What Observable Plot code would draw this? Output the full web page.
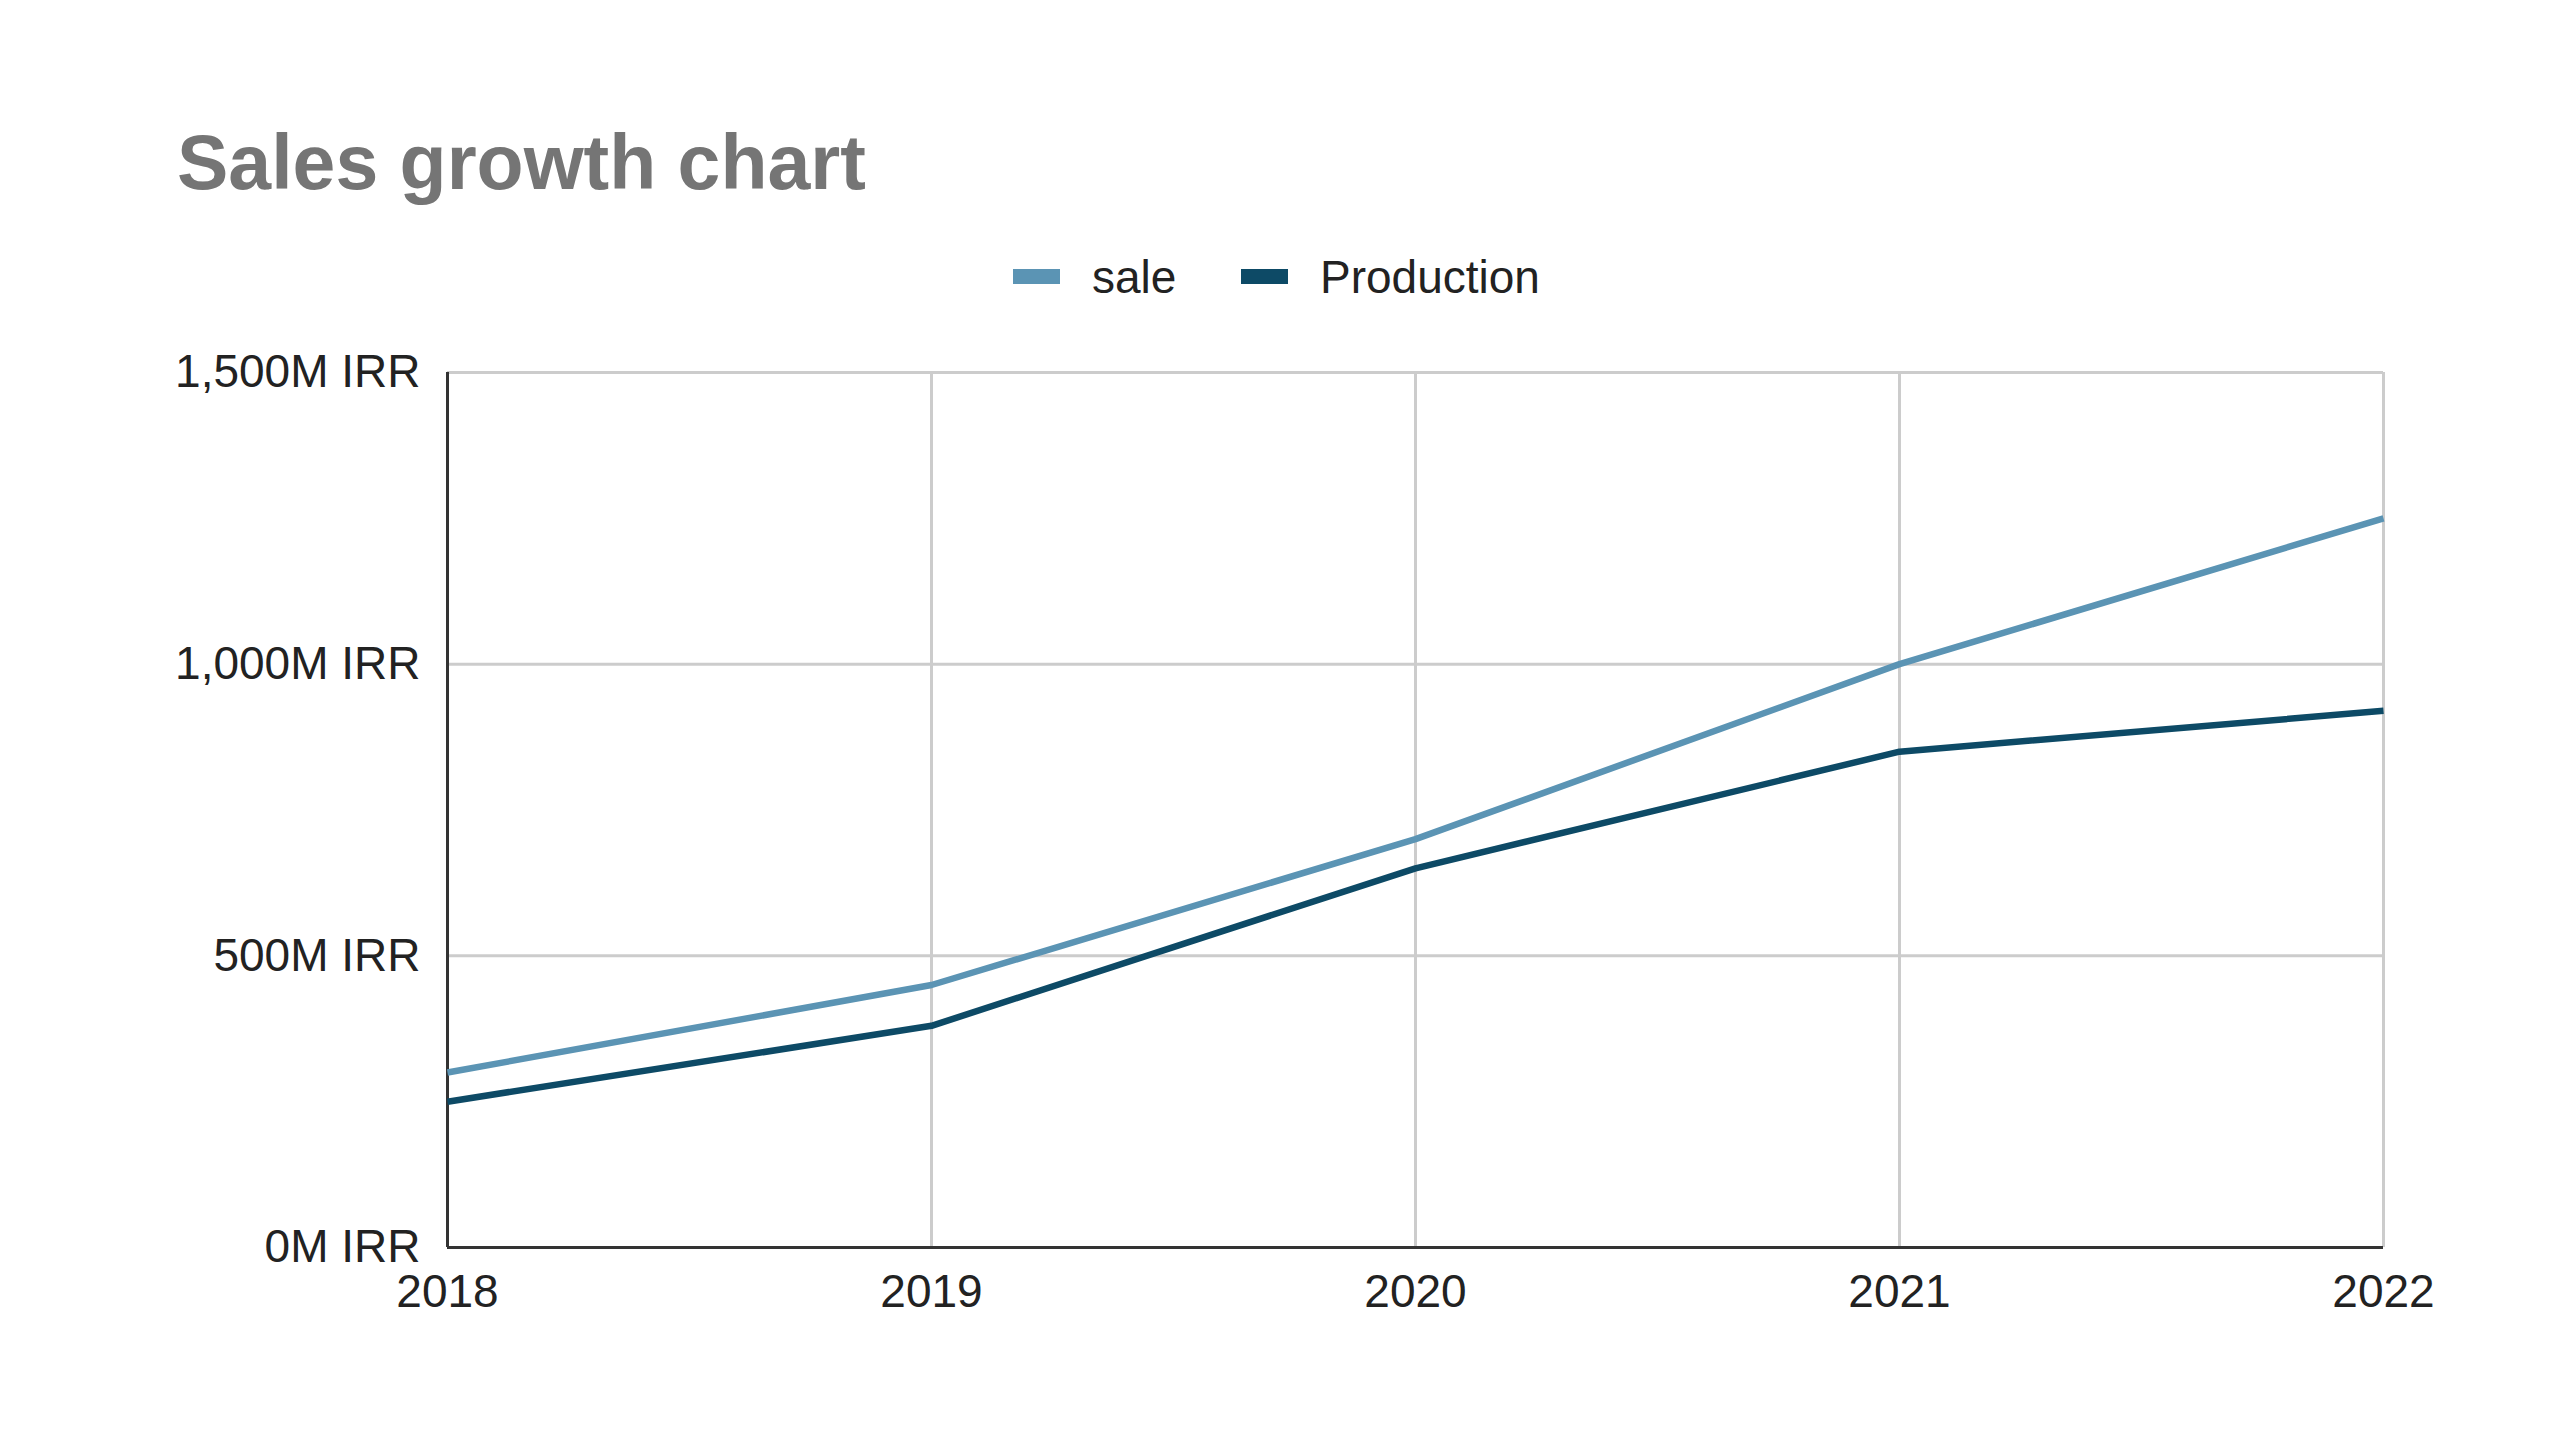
<!DOCTYPE html>
<html>
<head>
<meta charset="utf-8">
<script src="https://cdn.jsdelivr.net/npm/d3@7"></script>
<script src="https://cdn.jsdelivr.net/npm/@observablehq/plot@0.6"></script>
<style>
  html, body { margin: 0; padding: 0; background: #ffffff; }
  #page { position: relative; width: 2560px; height: 1440px; background: #ffffff; overflow: hidden; font-family: "Liberation Sans", Arial, sans-serif; }
  #title { position: absolute; left: 177px; top: 124px; font-size: 77px; line-height: 1; font-weight: bold; color: #757575; white-space: nowrap; }
  .leg-sw { position: absolute; height: 15px; width: 47px; top: 269px; }
  .leg-tx { position: absolute; top: 254px; font-size: 46px; line-height: 1; color: #222222; white-space: nowrap; }
  #chart { position: absolute; left: 0; top: 340px; }
</style>
</head>
<body>
<div id="page">
  <div id="title">Sales growth chart</div>
  <div id="legend"></div>
  <div id="chart"></div>
</div>
<script>
// ---- data ----
const years = [2018, 2019, 2020, 2021, 2022];
const seriesNames = ["sale", "Production"];
const seriesColors = ["#5b94b4", "#0d4a66"];
const saleValues = [300, 450, 700, 1000, 1250];
const productionValues = [250, 380, 650, 850, 920];
const yTicks = [0, 500, 1000, 1500];
const yTickSuffix = "M IRR";

// ---- legend (HTML, above the SVG) ----
const legendX = [{sw: 1013, tx: 1092}, {sw: 1241, tx: 1320}];
const legend = document.getElementById("legend");
seriesNames.forEach((name, i) => {
  const sw = document.createElement("div");
  sw.className = "leg-sw";
  sw.style.left = legendX[i].sw + "px";
  sw.style.background = seriesColors[i];
  legend.appendChild(sw);
  const tx = document.createElement("div");
  tx.className = "leg-tx";
  tx.style.left = legendX[i].tx + "px";
  tx.textContent = name;
  legend.appendChild(tx);
});

// ---- tidy table ----
const valuesBySeries = [saleValues, productionValues];
const data = [];
seriesNames.forEach((s, i) => {
  years.forEach((y, j) => data.push({series: s, year: y, value: valuesBySeries[i][j]}));
});

const chart = Plot.plot({
  width: 2560,
  height: 1020,
  marginTop: 32,
  marginBottom: 113,
  marginLeft: 447,
  marginRight: 177,
  style: {fontFamily: "'Liberation Sans', Arial, sans-serif", fontSize: "46px", color: "#222222", background: "transparent", overflow: "visible"},
  x: {domain: [years[0], years[years.length - 1]], ticks: years, tickFormat: d => String(d), label: null},
  y: {domain: [0, 1500], ticks: yTicks, tickFormat: d => d3.format(",")(d) + yTickSuffix, label: null},
  color: {domain: seriesNames, range: seriesColors},
  marks: [
    Plot.gridX(years, {stroke: "#cccccc", strokeOpacity: 1, strokeWidth: 3}),
    Plot.gridY(yTicks, {stroke: "#cccccc", strokeOpacity: 1, strokeWidth: 3}),
    Plot.axisX({ticks: years, tickFormat: d => String(d), tickSize: 0, tickPadding: 27, fontSize: 46, fill: "#222222"}),
    Plot.axisY({ticks: yTicks, tickFormat: d => d3.format(",")(d) + yTickSuffix, tickSize: 0, tickPadding: 27, fontSize: 46, fill: "#222222"}),
    Plot.ruleX([years[0]], {stroke: "#333333", strokeWidth: 3}),
    Plot.ruleY([0], {stroke: "#333333", strokeWidth: 3}),
    Plot.line(data, {x: "year", y: "value", z: "series", stroke: "series", strokeWidth: 6.5, strokeLinejoin: "round", strokeLinecap: "butt"})
  ]
});
document.getElementById("chart").appendChild(chart);
</script>
</body>
</html>
